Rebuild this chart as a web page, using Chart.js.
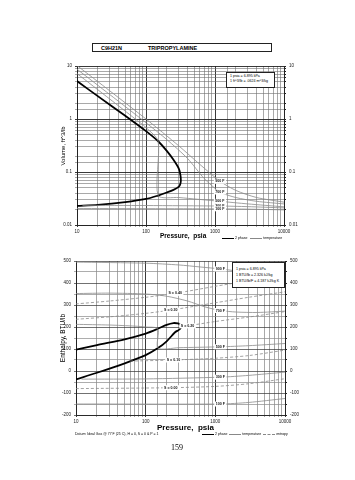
<!DOCTYPE html>
<html><head><meta charset="utf-8">
<script src="https://cdn.jsdelivr.net/npm/chart.js@4.4.0/dist/chart.umd.min.js"></script>
<style>
body{margin:0;background:#fff;width:355px;height:480px;position:relative;overflow:hidden;font-family:"Liberation Sans",Arial,sans-serif;-webkit-font-smoothing:antialiased;}
.abs{position:absolute;white-space:nowrap;color:#000;}
.rot{position:absolute;white-space:nowrap;color:#000;transform:translate(-50%,-50%) rotate(-90deg);}
canvas{position:absolute;left:0;}
.box{position:absolute;border:0.8px solid #222;background:#fff;font-size:3.6px;line-height:5px;padding:1px 3px;box-sizing:border-box;color:#000;}
.lg{position:absolute;font-size:3.5px;color:#000;white-space:nowrap;}
</style></head><body>
<div class="abs" style="left:92px;top:43px;width:180px;height:9px;border:1px solid #222;box-sizing:border-box;font-size:5.5px;font-weight:bold;line-height:8px;">
<span style="position:absolute;left:8px">C9H21N</span><span style="position:absolute;left:55px">TRIPROPYLAMINE</span></div>

<canvas id="c1" width="355" height="200" style="top:56px"></canvas>
<canvas id="c2" width="355" height="180" style="top:250px"></canvas>

<div class="rot" style="left:63px;top:146px;font-size:6px;">Volume, ft^3/lb</div>
<div class="abs" style="left:160px;top:232px;font-size:6.5px;font-weight:bold;">Pressure,&nbsp; psia</div>
<div class="rot" style="left:62px;top:338px;font-size:6.5px;">Enthalpy, BTU/lb</div>
<div class="abs" style="left:157px;top:423px;font-size:8px;font-weight:bold;">Pressure,&nbsp; psia</div>

<div class="box" style="left:226px;top:72px;width:49px;height:16px;">1 psia = 6.895 kPa<br>1 ft^3/lb = .0624 m^3/kg</div>
<div class="box" style="left:232px;top:262px;width:53px;height:26px;padding-top:3px;line-height:6px;">1 psia = 6.895 kPa<br>1 BTU/lb = 2.326 kJ/kg<br>1 BTU/lb/F = 4.187 kJ/kg K</div>

<div class="lg" style="left:222px;top:236px;"><span style="display:inline-block;width:12px;border-top:1.2px solid #000;vertical-align:middle"></span> 2 phase &nbsp;&nbsp;<span style="display:inline-block;width:12px;border-top:0.7px solid #888;vertical-align:middle"></span> temperature</div>
<div class="lg" style="left:75px;top:432px;">Datum: Ideal Gas @ 77 F (25 C), H = 0, S = 0 &amp; P = 1</div>
<div class="lg" style="left:202px;top:432px;"><span style="display:inline-block;width:12px;border-top:1.2px solid #000;vertical-align:middle"></span> 2 phase &nbsp;<span style="display:inline-block;width:12px;border-top:0.7px solid #888;vertical-align:middle"></span> temperature &nbsp;<span style="display:inline-block;width:12px;border-top:0.7px dashed #888;vertical-align:middle"></span> entropy</div>
<div class="abs" style="left:171px;top:443px;font-size:8px;font-family:'Liberation Serif',serif;">159</div>

<script>
// ---------- DATA ----------
// Top chart: Volume (ft^3/lb) vs Pressure (psia)
const domeVolP = [10,20,50,100,150,200,250,300,315,320,315,300,250,200,150,100,50,20,10];
const domeVolV = [5.2,2.7,1.15,0.59,0.38,0.25,0.17,0.115,0.088,0.071,0.06,0.053,0.046,0.041,0.036,0.031,0.027,0.024,0.023];
const vT900P = [10,30,100,300,600,1180,2000,4000,10000];
const vT900V = [10.2,3.38,1.0,0.31,0.14,0.067,0.045,0.033,0.027];
const vT700P = [10,30,100,200,400,700,1180,2000,4000,10000];
const vT700V = [8.7,2.88,0.85,0.41,0.18,0.075,0.042,0.033,0.028,0.025];
const vT500P = [10,30,70,100,150,150,300,1180,3000,10000];
const vT500V = [7.2,2.37,1.0,0.69,0.38,0.036,0.033,0.028,0.025,0.022];
const vT300P = [12,100,1180,3000,10000];
const vT300V = [0.0235,0.0233,0.0228,0.0222,0.021];
const vT100P = [10,1000,1180,3000,10000];
const vT100V = [0.0205,0.0202,0.0202,0.0199,0.0193];

// Bottom chart: Enthalpy (BTU/lb) vs Pressure (psia)
const domeHP = [10,20,50,100,150,200,250,290,315,322,318,300,264,200,150,100,50,20,10];
const domeHH = [97,118,144,170,192,210,218,216,210,203,195,187,176,135,104,72,35,-8,-38];
const p10LineP = [10,10];
const p10LineH = [-38,97];
const hT900P = [10,100,300,600,1180,2000,4000,10000];
const hT900H = [495,490,482,473,464,455,442,430];
const hT700P = [10,30,100,200,400,700,1180,2000,4000,10000];
const hT700H = [352,354,350,340,318,292,275,268,266,272];
const hT500P = [10,30,70,100,150,150,300,1180,3000,10000];
const hT500H = [212,209,204,200,192,104,106,110,115,125];
const hT300P = [12,100,1180,3000,10000];
const hT300H = [-37,-36,-28,-20,-5];
const hT100P = [10,1180,3000,10000];
const hT100H = [-150,-150,-143,-125];
const hS1P = [10,30,100,265,1000,3000,10000];
const hS1H = [305,318,335,353,385,410,432];
const hS2P = [10,30,100,230,1000,3000,10000];
const hS2H = [235,246,262,277,310,335,360];
const hS3P = [330,400,1000,3000,10000];
const hS3H = [200,205,225,245,270];
const hS4P = [60,250,1000,3000,10000];
const hS4H = [45,50,58,70,95];
const hS5P = [10,230,1000,3000,10000];
const hS5H = [-80,-76,-70,-58,-35];

const xTickLabels = ['10','100','1000','10000'];
const vTickLabels = ['0.01','0.1','1','10'];
const hTickLabels = ['-200','-100','0','100','200','300','400','500'];

// ---------- HELPERS ----------
const zip = (xs, ys) => xs.map((x, i) => ({x, y: ys[i]}));
const GRAY = '#8a8a8a';
function tempSet(xs, ys, label, at) {
  return {data: zip(xs, ys), borderColor: GRAY, borderWidth: 0.8, pointRadius: 0, showLine: true, tension: 0.25, curveLabel: label, labelAt: at};
}
function entSet(xs, ys, label, at) {
  return {data: zip(xs, ys), borderColor: GRAY, borderWidth: 0.8, borderDash: [3, 2], pointRadius: 0, showLine: true, tension: 0.25, curveLabel: label, labelAt: at};
}
function domeSet(xs, ys) {
  return {data: zip(xs, ys), borderColor: '#000', borderWidth: 1.8, pointRadius: 0, showLine: true, tension: 0.3};
}

const labelPlugin = {
  id: 'curveLabels',
  afterDatasetsDraw(chart) {
    const ctx = chart.ctx, xs = chart.scales.x, ys = chart.scales.y;
    ctx.save();
    ctx.font = 'bold 3.6px "Liberation Sans", Arial';
    ctx.textAlign = 'center'; ctx.textBaseline = 'middle';
    chart.data.datasets.forEach(ds => {
      if (!ds.curveLabel) return;
      const d = ds.data;
      let px = null, py = null;
      for (let i = 0; i < d.length - 1; i++) {
        if (d[i].x <= ds.labelAt && d[i + 1].x >= ds.labelAt && d[i+1].x !== d[i].x) {
          const t = (Math.log(ds.labelAt) - Math.log(d[i].x)) / (Math.log(d[i + 1].x) - Math.log(d[i].x));
          px = xs.getPixelForValue(ds.labelAt);
          const a = ys.getPixelForValue(d[i].y), b = ys.getPixelForValue(d[i + 1].y);
          py = a + t * (b - a);
          break;
        }
      }
      if (px === null) return;
      const w = ctx.measureText(ds.curveLabel).width + 3;
      ctx.fillStyle = '#fff';
      ctx.fillRect(px - w / 2, py - 2.5, w, 5);
      ctx.fillStyle = '#111';
      ctx.fillText(ds.curveLabel, px, py);
    });
    ctx.restore();
  }
};

const isPow10 = v => Math.abs(Math.log10(v) - Math.round(Math.log10(v))) < 1e-6;
const tickFont = {size: 4.5, family: '"Liberation Sans", Arial'};

function xScale() {
  return {
    type: 'logarithmic', min: 10, max: 10000, position: 'bottom',
    afterFit: s => { s.height = 12; },
    ticks: {autoSkip: false, maxRotation: 0, font: tickFont, color: '#222', padding: 2,
      callback: v => isPow10(v) ? xTickLabels[Math.round(Math.log10(v)) - 1] : ''},
    grid: {color: c => (c.tick && isPow10(c.tick.value)) ? '#222' : '#6e6e6e', lineWidth: c => (c.tick && isPow10(c.tick.value)) ? 0.9 : 0.6, tickLength: 2},
    border: {color: '#222', width: 0.9}
  };
}

// ---------- TOP CHART ----------
function vLabel(v) { return isPow10(v) ? vTickLabels[Math.round(Math.log10(v)) + 2] : ''; }
new Chart(document.getElementById('c1'), {
  type: 'scatter',
  data: {datasets: [
    tempSet(vT900P, vT900V, '900 F', 1180),
    tempSet(vT700P, vT700V, '700 F', 1180),
    tempSet(vT500P, vT500V, '500 F', 1180),
    tempSet(vT300P, vT300V, '300 F', 1180),
    tempSet(vT100P, vT100V, '100 F', 1180),
    domeSet(domeVolP, domeVolV)
  ]},
  options: {
    responsive: false, animation: false, events: [],
    layout: {padding: {left: 57, right: 51, top: 10, bottom: 19}},
    plugins: {legend: {display: false}, tooltip: {enabled: false}},
    scales: {
      x: xScale(),
      y: {type: 'logarithmic', min: 0.01, max: 10, afterFit: s => { s.width = 20; },
        ticks: {autoSkip: false, font: tickFont, color: '#222', padding: 3, callback: vLabel},
        grid: {color: c => (c.tick && isPow10(c.tick.value)) ? '#222' : '#6e6e6e', lineWidth: c => (c.tick && isPow10(c.tick.value)) ? 0.9 : 0.6, tickLength: 2},
        border: {color: '#222', width: 0.9}},
      y2: {type: 'logarithmic', position: 'right', min: 0.01, max: 10, afterFit: s => { s.width = 20; },
        ticks: {autoSkip: false, font: tickFont, color: '#222', padding: 3, callback: vLabel},
        grid: {drawOnChartArea: false, tickLength: 2, color: '#222'},
        border: {color: '#222', width: 0.9}}
    }
  },
  plugins: [labelPlugin]
});

// ---------- BOTTOM CHART ----------
function hLabel(v) { return (v % 100 === 0) ? hTickLabels[(v + 200) / 100] : ''; }
new Chart(document.getElementById('c2'), {
  type: 'scatter',
  data: {datasets: [
    tempSet(hT900P, hT900H, '900 F', 1180),
    tempSet(hT700P, hT700H, '700 F', 1180),
    tempSet(hT500P, hT500H, '500 F', 1180),
    tempSet(hT300P, hT300H, '300 F', 1180),
    tempSet(hT100P, hT100H, '100 F', 1180),
    entSet(hS1P, hS1H, 'S = 0.40', 265),
    entSet(hS2P, hS2H, 'S = 0.30', 230),
    entSet(hS3P, hS3H, 'S = 0.20', 400),
    entSet(hS4P, hS4H, 'S = 0.10', 250),
    entSet(hS5P, hS5H, 'S = 0.00', 230),
    {data: zip(p10LineP, p10LineH), borderColor: '#000', borderWidth: 1, pointRadius: 0, showLine: true},
    domeSet(domeHP, domeHH)
  ]},
  options: {
    responsive: false, animation: false, events: [],
    layout: {padding: {left: 56, right: 50, top: 11, bottom: 3}},
    plugins: {legend: {display: false}, tooltip: {enabled: false}},
    scales: {
      x: xScale(),
      y: {type: 'linear', min: -200, max: 500, afterFit: s => { s.width = 20; },
        ticks: {stepSize: 50, autoSkip: false, font: tickFont, color: '#222', padding: 3, callback: hLabel},
        grid: {color: c => (c.tick && c.tick.value % 100 === 0) ? '#333' : '#8a8a8a', lineWidth: 0.7, tickLength: 2},
        border: {color: '#222', width: 0.9}},
      y2: {type: 'linear', position: 'right', min: -200, max: 500, afterFit: s => { s.width = 20; },
        ticks: {stepSize: 50, autoSkip: false, font: tickFont, color: '#222', padding: 3, callback: hLabel},
        grid: {drawOnChartArea: false, tickLength: 2, color: '#222'},
        border: {color: '#222', width: 0.9}}
    }
  },
  plugins: [labelPlugin]
});
</script>
</body></html>
